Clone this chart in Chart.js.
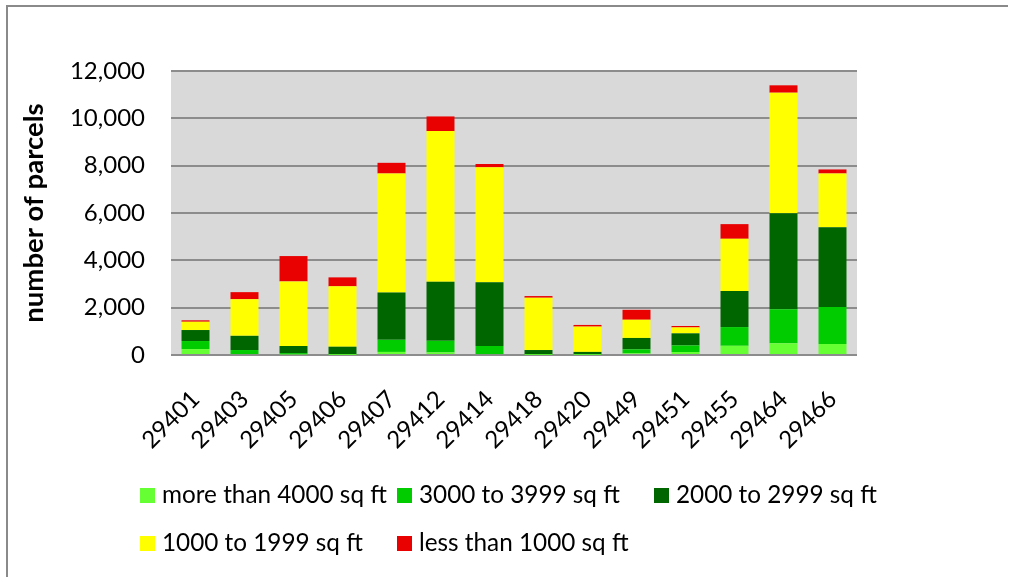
<!DOCTYPE html>
<html>
<head>
<meta charset="utf-8">
<script src="https://cdn.jsdelivr.net/npm/chart.js@4.4.1/dist/chart.umd.min.js"></script>
<style>
html, body { margin: 0; padding: 0; background: #ffffff; }
#wrap { position: relative; width: 1011px; height: 577px; }
</style>
</head>
<body>
<div id="wrap"><canvas id="c" width="1011" height="577"></canvas></div>
<script>
// ---- data ----
const categories = ['29401','29403','29405','29406','29407','29412','29414','29418','29420','29449','29451','29455','29464','29466'];
const moreThan4000 = [250, 40, 30, 10, 130, 110, 40, 10, 10, 70, 125, 390, 495, 465];
const from3000to3999 = [340, 170, 50, 20, 510, 490, 340, 20, 10, 170, 280, 790, 1435, 1565];
const from2000to2999 = [465, 600, 300, 320, 2000, 2490, 2690, 180, 110, 480, 510, 1520, 4055, 3370];
const from1000to1999 = [350, 1550, 2730, 2550, 5030, 6370, 4860, 2210, 1070, 770, 250, 2210, 5100, 2270];
const lessThan1000 = [60, 296, 1070, 380, 450, 620, 140, 70, 70, 420, 60, 620, 310, 170];
const seriesLabels = ['more than 4000 sq ft', '3000 to 3999 sq ft', '2000 to 2999 sq ft', '1000 to 1999 sq ft', 'less than 1000 sq ft'];
const seriesColors = ['#66FF33', '#00CC00', '#006600', '#FFFF00', '#E90000'];
const yAxisTitle = 'number of parcels';
const yMax = 12000;
const yStep = 2000;

const FONT = 'Lato';

const frame = {
  id: 'frame',
  beforeDraw(chart) {
    const { ctx, chartArea: a } = chart;
    ctx.save();
    ctx.fillStyle = '#ffffff';
    ctx.fillRect(0, 0, chart.width, chart.height);
    ctx.strokeStyle = '#8A8A8A';
    ctx.lineWidth = 2;
    ctx.beginPath();
    ctx.moveTo(7, 600);
    ctx.lineTo(7, 6);
    ctx.lineTo(1008, 6);
    ctx.stroke();
    ctx.fillStyle = '#D9D9D9';
    ctx.fillRect(a.left, a.top, a.right - a.left, a.bottom - a.top);
    ctx.restore();
  }
};

const gridLegend = {
  id: 'gridLegend',
  afterDraw(chart) {
    const ctx = chart.ctx;
    const cols = [140, 397, 654];
    const rows = [503, 551];
    ctx.save();
    chart.data.datasets.forEach((ds, i) => {
      const x = cols[i % 3];
      const base = rows[Math.floor(i / 3)];
      ctx.fillStyle = ds.backgroundColor;
      ctx.fillRect(x, base - 15, 15, 15);
      ctx.fillStyle = '#000000';
      ctx.font = '24.3px ' + FONT;
      ctx.textBaseline = 'alphabetic';
      ctx.textAlign = 'left';
      ctx.fillText(ds.label, x + 22, base);
    });
    ctx.restore();
  }
};

const seriesData = [moreThan4000, from3000to3999, from2000to2999, from1000to1999, lessThan1000];

new Chart(document.getElementById('c'), {
  type: 'bar',
  data: {
    labels: categories,
    datasets: seriesData.map((d, i) => ({
      label: seriesLabels[i],
      data: d,
      backgroundColor: seriesColors[i],
      borderWidth: 0,
      barPercentage: 0.571,
      categoryPercentage: 1.0
    }))
  },
  options: {
    responsive: false,
    animation: false,
    devicePixelRatio: 1,
    layout: { padding: { left: 0, top: 71, right: 154, bottom: 0 } },
    plugins: { legend: { display: false }, tooltip: { enabled: false }, title: { display: false } },
    scales: {
      x: {
        stacked: true,
        grid: { display: false, drawTicks: false },
        border: { display: false },
        ticks: {
          autoSkip: false,
          maxRotation: 45,
          minRotation: 45,
          padding: 30,
          color: '#000000',
          font: { family: FONT, size: 24 }
        },
        afterFit(scale) { scale.height = 222; }
      },
      y: {
        stacked: true,
        min: 0,
        max: yMax,
        grid: { color: '#8C8C8C', lineWidth: 2, drawTicks: false },
        border: { display: false },
        ticks: {
          stepSize: yStep,
          padding: 26,
          color: '#000000',
          font: { family: FONT, size: 24 }
        },
        title: {
          display: true,
          text: yAxisTitle,
          color: '#000000',
          font: { family: FONT, size: 27.5, weight: 'bold' },
          padding: { top: 18, bottom: 0 }
        },
        afterFit(scale) { scale.width = 171; }
      }
    }
  },
  plugins: [frame, gridLegend]
});
</script>
</body>
</html>
